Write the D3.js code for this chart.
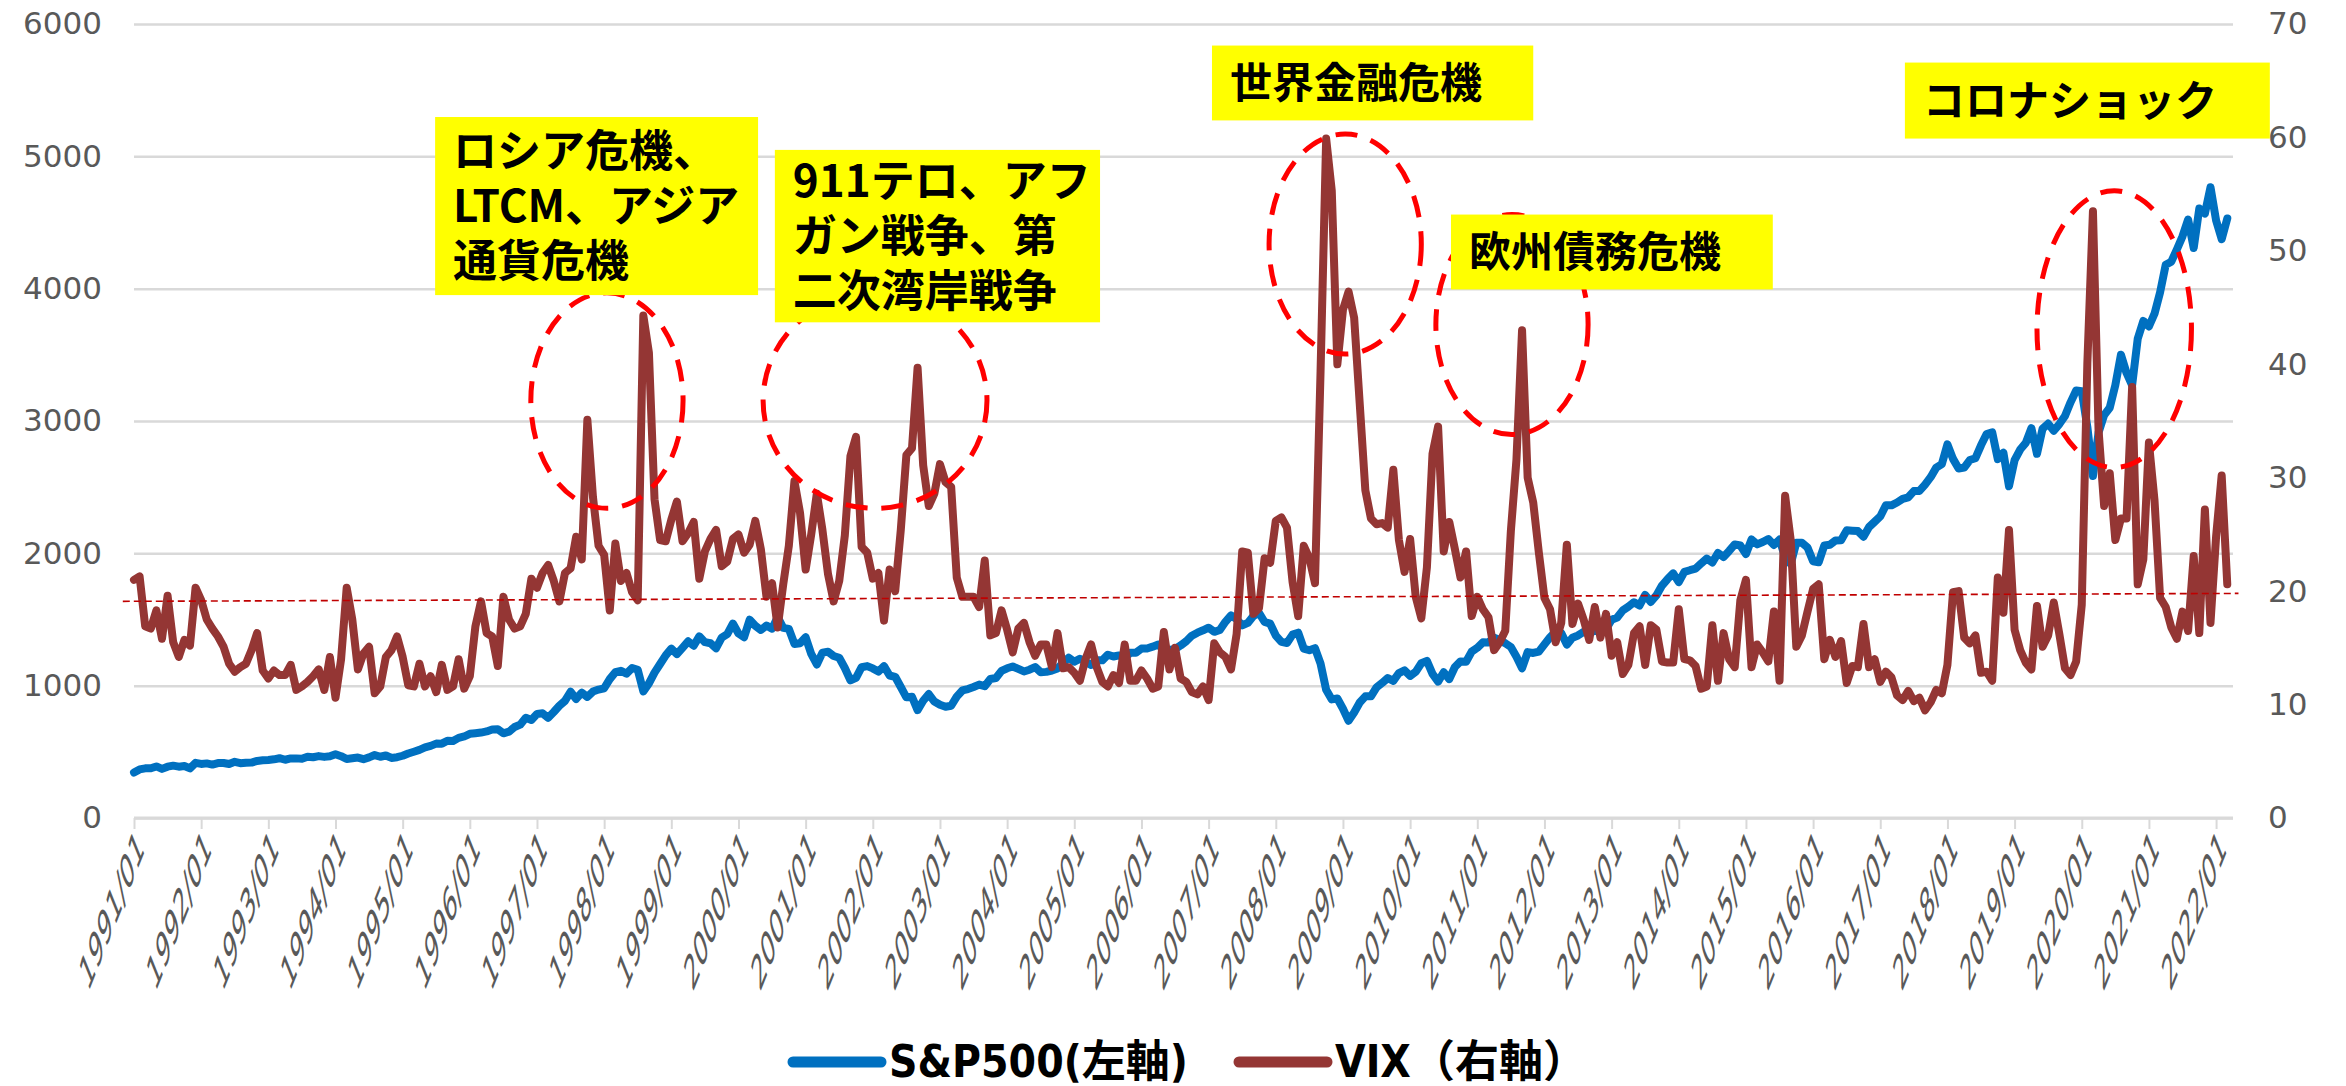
<!DOCTYPE html>
<html>
<head>
<meta charset="utf-8">
<script src="https://cdn.jsdelivr.net/npm/d3@7"></script>
<style>
  body { margin: 0; background: #fff; }
</style>
</head>
<body>
<div id="chart"></div>
<script>

// monthly close, 1991/01 - 2022/03
const spx = [
  343.93, 367.07, 375.22, 375.35, 389.83, 371.16, 387.81, 395.43, 387.86, 392.46, 375.22, 417.09,
  408.79, 412.70, 403.69, 414.95, 415.35, 408.14, 424.21, 414.03, 417.80, 418.68, 431.35, 435.71,
  438.78, 443.38, 451.67, 440.19, 450.19, 450.53, 448.13, 463.56, 458.93, 467.83, 461.79, 466.45,
  481.61, 467.14, 445.77, 450.91, 456.50, 444.27, 458.26, 475.49, 462.69, 472.35, 453.69, 459.27,
  470.42, 487.39, 500.71, 514.71, 533.40, 544.75, 562.06, 561.88, 584.41, 581.50, 605.37, 615.93,
  636.02, 640.43, 645.50, 654.17, 669.12, 670.63, 639.95, 651.99, 687.31, 705.27, 757.02, 740.74,
  786.16, 790.82, 757.12, 801.34, 848.28, 885.14, 954.29, 899.47, 947.28, 914.62, 955.40, 970.43,
  980.28, 1049.34, 1101.75, 1111.75, 1090.82, 1133.84, 1120.67, 957.28, 1017.01, 1098.67, 1163.63, 1229.23,
  1279.64, 1238.33, 1286.37, 1335.18, 1301.84, 1372.71, 1328.72, 1320.41, 1282.71, 1362.93, 1388.91, 1469.25,
  1394.46, 1366.42, 1498.58, 1452.43, 1420.60, 1454.60, 1430.83, 1517.68, 1436.51, 1429.40, 1314.95, 1320.28,
  1366.01, 1239.94, 1160.33, 1249.46, 1255.82, 1224.42, 1211.23, 1133.58, 1040.94, 1059.78, 1139.45, 1148.08,
  1130.20, 1106.73, 1147.39, 1076.92, 1067.14, 989.82, 911.62, 916.07, 815.28, 885.76, 936.31, 879.82,
  855.70, 841.15, 848.18, 916.92, 963.59, 974.50, 990.31, 1008.01, 995.97, 1050.71, 1058.20, 1111.92,
  1131.13, 1144.94, 1126.21, 1107.30, 1120.68, 1140.84, 1101.72, 1104.24, 1114.58, 1130.20, 1173.82, 1211.92,
  1181.27, 1203.60, 1180.59, 1156.85, 1191.50, 1191.33, 1234.18, 1220.33, 1228.81, 1207.01, 1249.48, 1248.29,
  1280.08, 1280.66, 1294.83, 1310.61, 1270.09, 1270.20, 1276.66, 1303.82, 1335.85, 1377.94, 1400.63, 1418.30,
  1438.24, 1406.82, 1420.86, 1482.37, 1530.62, 1503.35, 1455.27, 1473.99, 1526.75, 1549.38, 1481.14, 1468.36,
  1378.55, 1330.63, 1322.70, 1385.59, 1400.38, 1280.00, 1267.38, 1282.83, 1166.36, 968.75, 896.24, 903.25,
  825.88, 735.09, 797.87, 872.81, 919.14, 919.32, 987.48, 1020.62, 1057.08, 1036.19, 1095.63, 1115.10,
  1073.87, 1104.49, 1169.43, 1186.69, 1089.41, 1030.71, 1101.60, 1049.33, 1141.20, 1183.26, 1180.55, 1257.64,
  1286.12, 1327.22, 1325.83, 1363.61, 1345.20, 1320.64, 1292.28, 1218.89, 1131.42, 1253.30, 1246.96, 1257.60,
  1312.41, 1365.68, 1408.47, 1397.91, 1310.33, 1362.16, 1379.32, 1406.58, 1440.67, 1412.16, 1416.18, 1426.19,
  1498.11, 1514.68, 1569.19, 1597.57, 1630.74, 1606.28, 1685.73, 1632.97, 1681.55, 1756.54, 1805.81, 1848.36,
  1782.59, 1859.45, 1872.34, 1883.95, 1923.57, 1960.23, 1930.67, 2003.37, 1972.29, 2018.05, 2067.56, 2058.90,
  1994.99, 2104.50, 2067.89, 2085.51, 2107.39, 2063.11, 2103.84, 1972.18, 1920.03, 2079.36, 2080.41, 2043.94,
  1940.24, 1932.23, 2059.74, 2065.30, 2096.95, 2098.86, 2173.60, 2170.95, 2168.27, 2126.15, 2198.81, 2238.83,
  2278.87, 2363.64, 2362.72, 2384.20, 2411.80, 2423.41, 2470.30, 2471.65, 2519.36, 2575.26, 2647.58, 2673.61,
  2823.81, 2713.83, 2640.87, 2648.05, 2705.27, 2718.37, 2816.29, 2901.52, 2913.98, 2711.74, 2760.17, 2506.85,
  2704.10, 2784.49, 2834.40, 2945.83, 2752.06, 2941.76, 2980.38, 2926.46, 2976.74, 3037.56, 3140.98, 3230.78,
  3225.52, 2954.22, 2584.59, 2912.43, 3044.31, 3100.29, 3271.12, 3500.31, 3363.00, 3269.96, 3621.63, 3756.07,
  3714.24, 3811.15, 3972.89, 4181.17, 4204.11, 4297.50, 4395.26, 4522.68, 4307.54, 4605.38, 4567.00, 4766.18,
  4515.55, 4373.94, 4530.41
]

const vix = [
  21.0, 21.3, 16.9, 16.7, 18.3, 15.8, 19.6, 15.5, 14.2, 15.7, 15.2, 20.3,
  19.2, 17.5, 16.7, 16.0, 15.1, 13.6, 12.9, 13.3, 13.6, 14.8, 16.3, 13.0,
  12.3, 13.0, 12.6, 12.6, 13.5, 11.3, 11.6, 12.0, 12.5, 13.1, 11.3, 14.2,
  10.6, 14.0, 20.3, 17.5, 13.1, 14.5, 15.1, 11.0, 11.6, 14.2, 14.8, 16.0,
  14.2, 11.7, 11.6, 13.6, 11.6, 12.5, 11.1, 13.5, 11.3, 11.6, 14.0, 11.4,
  12.5, 16.9, 19.1, 16.3, 16.0, 13.4, 19.5, 17.5, 16.7, 16.9, 18.0, 21.1,
  20.3, 21.6, 22.3, 20.9, 19.1, 21.6, 22.0, 24.8, 22.8, 35.1, 28.3, 24.0,
  23.2, 18.3, 24.2, 20.9, 21.6, 19.9, 19.2, 44.3, 41.0, 28.1, 24.5, 24.4,
  26.3, 27.9, 24.4, 25.1, 26.1, 21.1, 23.5, 24.6, 25.4, 22.2, 22.6, 24.6,
  25.0, 23.4, 24.1, 26.2, 23.7, 19.5, 20.7, 16.8, 20.6, 24.0, 29.7, 26.9,
  21.9, 25.0, 28.6, 25.4, 21.5, 19.1, 20.9, 24.9, 31.9, 33.6, 23.9, 23.4,
  21.1, 21.6, 17.4, 21.9, 20.0, 25.4, 32.0, 32.6, 39.7, 31.1, 27.5, 28.6,
  31.2, 29.6, 29.2, 21.2, 19.5, 19.5, 19.5, 18.6, 22.7, 16.1, 16.3, 18.3,
  16.6, 14.6, 16.7, 17.2, 15.5, 14.3, 15.3, 15.3, 13.3, 16.3, 13.2, 13.3,
  12.8, 12.1, 14.0, 15.3, 13.3, 12.0, 11.6, 12.6, 11.9, 15.3, 12.1, 12.1,
  13.0, 12.3, 11.4, 11.6, 16.4, 13.1, 15.0, 12.3, 12.0, 11.1, 10.9, 11.6,
  10.4, 15.4, 14.6, 14.2, 13.1, 16.2, 23.5, 23.4, 18.0, 18.5, 22.9, 22.5,
  26.2, 26.5, 25.6, 20.8, 17.8, 24.0, 22.9, 20.7, 39.4, 59.9, 55.3, 40.0,
  44.8, 46.4, 44.1, 36.5, 28.9, 26.4, 25.9, 26.0, 25.6, 30.7, 24.5, 21.7,
  24.6, 19.5, 17.6, 22.1, 32.1, 34.5, 23.5, 26.1, 23.7, 21.2, 23.5, 17.8,
  19.5, 18.4, 17.7, 14.8, 15.5, 16.5, 25.3, 31.6, 43.0, 30.0, 27.8, 23.4,
  19.4, 18.4, 15.5, 17.2, 24.1, 17.1, 18.9, 17.5, 15.7, 18.6, 15.9, 18.0,
  14.3, 15.5, 12.7, 13.5, 16.3, 16.9, 13.5, 17.0, 16.6, 13.8, 13.7, 13.7,
  18.4, 14.0, 13.9, 13.4, 11.4, 11.6, 17.0, 12.1, 16.3, 14.0, 13.3, 19.2,
  21.0, 13.3, 15.3, 14.6, 13.8, 18.2, 12.1, 28.4, 24.5, 15.1, 16.1, 18.2,
  20.2, 20.6, 14.0, 15.7, 14.2, 15.6, 11.9, 13.4, 13.3, 17.1, 13.3, 14.0,
  12.0, 12.9, 12.4, 10.8, 10.4, 11.2, 10.3, 10.6, 9.5, 10.2, 11.3, 11.0,
  13.5, 19.9, 20.0, 15.9, 15.4, 16.1, 12.8, 12.9, 12.1, 21.2, 18.1, 25.4,
  16.6, 14.8, 13.7, 13.1, 18.7, 15.1, 16.1, 19.0, 16.2, 13.2, 12.6, 13.8,
  18.8, 40.1, 53.5, 34.2, 27.5, 30.4, 24.5, 26.4, 26.4, 38.0, 20.6, 22.8,
  33.1, 28.0, 19.4, 18.6, 16.8, 15.8, 18.2, 16.5, 23.1, 16.3, 27.2, 17.2,
  24.8, 30.2, 20.6
]

const firstMonth = new Date(1991, 0, 1)
const months = d3.timeMonth.range(firstMonth, d3.timeMonth.offset(firstMonth, spx.length))
const leftTicks = [0, 1000, 2000, 3000, 4000, 5000, 6000]
const rightTicks = [0, 10, 20, 30, 40, 50, 60, 70]

// hand drawn guide around the long-run VIX level (month index, VIX)
const guideIdx = [-2, 376]
const guideVix = [19.1, 19.8]

const seriesNames = ["S&P500(左軸)", "VIX（右軸）"]

// yellow call-outs and dashed rings, in month index / VIX units
const notes = [
  {lines: ["ロシア危機、", "LTCM、アジア", "通貨危機"], size: 44, box: [53.8, 111.5, 61.8, 46.1], ring: [84.5, 36.8, 13.6, 9.5]},
  {lines: ["911テロ、アフ", "ガン戦争、第", "二次湾岸戦争"], size: 44, box: [114.5, 172.6, 58.9, 43.7], ring: [132.4, 36.8, 20, 9.5]},
  {lines: ["世界金融危機"], size: 42, box: [192.6, 250.0, 68.1, 61.5], ring: [216.4, 50.6, 13.6, 9.7]},
  {lines: ["欧州債務危機"], size: 42, box: [235.3, 292.8, 53.2, 46.6], ring: [246.2, 43.5, 13.6, 9.7]},
  {lines: ["コロナショック"], size: 42, box: [316.4, 381.6, 66.6, 59.9], ring: [353.8, 43.1, 13.8, 12.2]}
]

// layout
const width = 2346
const height = 1086
const plotLeft = 134
const plotRight = 2233
const plotTop = 24
const plotBottom = 818
const monthStep = 5.597

const blue = "#0070C0"
const brown = "#943634"
const grid = "#D9D9D9"
const tickGrey = "#595959"

const svg = d3.select("#chart").append("svg")
    .attr("width", width)
    .attr("height", height)
    .style("background", "#fff")

const x = d3.scaleLinear()
    .domain([0, spx.length - 1])
    .range([plotLeft, plotLeft + (spx.length - 1) * monthStep])
const yLeft = d3.scaleLinear().domain([0, 6000]).range([plotBottom, plotTop])
const yRight = d3.scaleLinear().domain([0, 70]).range([plotBottom, plotTop])

// left axis with gridlines

const gLeft = svg.append("g")
    .attr("transform", "translate(" + plotLeft + ",0)")
    .call(d3.axisLeft(yLeft)
        .tickValues(leftTicks)
        .tickFormat(d3.format("d"))
        .tickSize(-(plotRight - plotLeft))
        .tickPadding(32))
gLeft.select(".domain").remove()
gLeft.selectAll(".tick line").attr("stroke", grid).attr("stroke-width", 2.5)
gLeft.selectAll(".tick text")
    .attr("fill", tickGrey)
    .style("font-family", "DejaVu Sans, sans-serif")
    .style("font-size", "31px")

// right axis labels only

const gRight = svg.append("g")
    .attr("transform", "translate(" + plotRight + ",0)")
    .call(d3.axisRight(yRight).tickValues(rightTicks).tickSize(0).tickPadding(35))
gRight.select(".domain").remove()
gRight.selectAll(".tick text")
    .attr("fill", tickGrey)
    .style("font-family", "DejaVu Sans, sans-serif")
    .style("font-size", "31px")

// bottom category axis, a tick every january

const gBottom = svg.append("g")
    .attr("transform", "translate(0," + plotBottom + ")")
    .call(d3.axisBottom(x)
        .tickValues(d3.range(0, spx.length, 12))
        .tickFormat(i => d3.timeFormat("%Y/%m")(months[i]))
        .tickSize(11))
gBottom.select(".domain").remove()
gBottom.append("line")
    .attr("x1", plotLeft).attr("x2", plotRight)
    .attr("stroke", grid).attr("stroke-width", 3)
gBottom.selectAll(".tick line").attr("stroke", grid).attr("stroke-width", 2)
gBottom.selectAll(".tick text")
    .attr("fill", tickGrey)
    .attr("text-anchor", "end")
    .attr("y", 0)
    .attr("dy", "0.35em")
    .attr("transform", "translate(6,20) scale(1,2.5) rotate(-45)")
    .style("font-family", "DejaVu Sans, sans-serif")
    .style("font-size", "19.5px")

// the two series

const spxLine = d3.line().x((d, i) => x(i)).y(d => yLeft(d))
const vixLine = d3.line().x((d, i) => x(i)).y(d => yRight(d))

svg.append("path")
    .datum(spx)
    .attr("d", spxLine)
    .attr("fill", "none")
    .attr("stroke", blue)
    .attr("stroke-width", 8)
    .attr("stroke-linejoin", "round")
    .attr("stroke-linecap", "round")

svg.append("path")
    .datum(vix)
    .attr("d", vixLine)
    .attr("fill", "none")
    .attr("stroke", brown)
    .attr("stroke-width", 8)
    .attr("stroke-linejoin", "round")
    .attr("stroke-linecap", "round")

svg.append("path")
    .datum(guideIdx.map((d, k) => [d, guideVix[k]]))
    .attr("d", d3.line().x(d => x(d[0])).y(d => yRight(d[1])))
    .attr("fill", "none")
    .attr("stroke", "#C00000")
    .attr("stroke-width", 1.6)
    .attr("stroke-dasharray", "7 4")

// rings first, boxes sit on top of them

notes.forEach(n => {
    const [ci, cv, di, dv] = n.ring
    svg.append("ellipse")
        .attr("cx", x(ci))
        .attr("cy", yRight(cv))
        .attr("rx", x(ci + di) - x(ci))
        .attr("ry", yRight(0) - yRight(dv))
        .attr("fill", "none")
        .attr("stroke", "#FF0000")
        .attr("stroke-width", 5)
        .attr("stroke-dasharray", "22 14")
})

notes.forEach(n => {
    const [i0, i1, vTop, vBottom] = n.box
    const bx = x(i0), by = yRight(vTop)
    const bw = x(i1) - x(i0), bh = yRight(vBottom) - yRight(vTop)
    svg.append("rect")
        .attr("x", bx).attr("y", by)
        .attr("width", bw).attr("height", bh)
        .attr("fill", "#FFFF00")

    const lineH = 55
    const first = by + (bh - n.lines.length * lineH) / 2 + lineH / 2 + n.size * 0.36
    const t = svg.append("text")
        .attr("x", bx + 18)
        .attr("y", first)
        .style("font-family", "'Noto Sans CJK JP', sans-serif")
        .style("font-weight", "700")
        .style("font-size", n.size + "px")
        .attr("fill", "#000")
    n.lines.forEach((s, k) => {
        t.append("tspan").attr("x", bx + 18).attr("y", first + k * lineH).text(s)
    })
})

// legend

const legend = svg.append("g").attr("transform", "translate(0,1062)")
const legendX = [793, 1239]
seriesNames.forEach((name, k) => {
    legend.append("line")
        .attr("x1", legendX[k]).attr("x2", legendX[k] + 88)
        .attr("stroke", k === 0 ? blue : brown)
        .attr("stroke-width", 11)
        .attr("stroke-linecap", "round")
    legend.append("text")
        .attr("x", legendX[k] + 96)
        .attr("y", 15)
        .style("font-family", "'Liberation Sans Narrow', 'DejaVu Sans Condensed', 'Noto Sans CJK JP', sans-serif")
        .style("font-weight", "700")
        .style("font-size", "44px")
        .attr("fill", "#000")
        .text(name)
})

</script>
</body>
</html>
